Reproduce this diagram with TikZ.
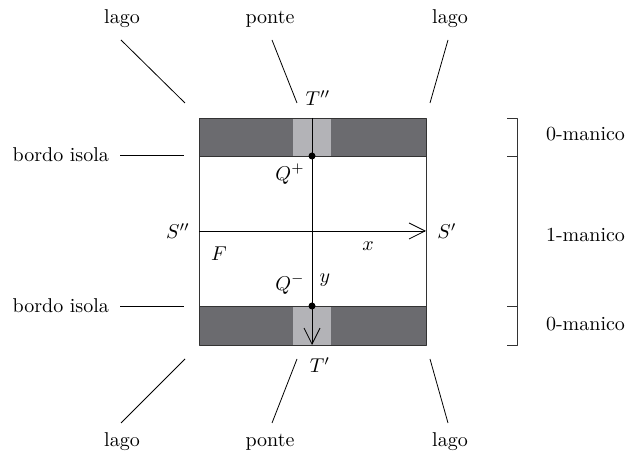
\documentclass[tikz,border=0pt]{standalone}
\usetikzlibrary{arrows.meta}
\definecolor{lagogrigio}{RGB}{107,107,111}
\definecolor{pontegrigio}{RGB}{179,179,183}
\begin{document}
\begin{tikzpicture}[
		x=0.5pt, y=-0.5pt,
		line join=round,
		>={Straight Barb[length=8pt,width=8pt]},
		etichetta/.style={inner sep=1pt}
		]
		\useasboundingbox (0,0) rectangle (627,458);
		
		% Angoli del quadrato
		\coordinate (NO) at (199,118);
		\coordinate (NE) at (426,118);
		\coordinate (SO) at (199,345);
		\coordinate (SE) at (426,345);
		\coordinate (BOs) at (199,156);
		\coordinate (BEs) at (426,156);
		\coordinate (BOi) at (199,306);
		\coordinate (BEi) at (426,306);
		
		% Bande (laghi) e ponti
		\fill[lagogrigio] (NO) rectangle (BEs);
		\fill[lagogrigio] (BOi) rectangle (SE);
		\fill[pontegrigio] (293,118) rectangle (331,156);
		\fill[pontegrigio] (293,306) rectangle (331,345);
		
		% Quadrato
		\draw[black!80] (NO) rectangle (SE);
		\draw[black!80] (BOs) -- (BEs);
		\draw[black!80] (BOi) -- (BEi);
		
		% Assi
		\coordinate (Tpp) at (312,118);
		\coordinate (Tp) at (312,345);
		\coordinate (Spp) at (199,231);
		\coordinate (Sp) at (426,231);
		\draw[->] (Tpp) -- (Tp);
		\draw[->] (Spp) -- (Sp);
		
		% Punti
		\coordinate (Qp) at (312,156);
		\coordinate (Qm) at (312,306);
		\fill (Qp) circle (1.75pt);
		\fill (Qm) circle (1.75pt);
		
		% Nomi
		\node[etichetta] (lTpp) at (318,98) {$T''$};
		\node[etichetta] (lTp) at (320,365) {$T'$};
		\node[etichetta] (lQp) at (290,174) {$Q^+$};
		\node[etichetta] (lQm) at (290,284) {$Q^-$};
		\node[etichetta] (ly) at (325,280) {$y$};
		\node[etichetta] (lx) at (368,246) {$x$};
		\node[etichetta] (lF) at (219,254) {$F$};
		\node[etichetta] (lSpp) at (178,231) {$S''$};
		\node[etichetta] (lSp) at (447,231) {$S'$};
		
		% Laghi e ponti (sopra)
		\node (lagoA) at (122,19) {lago};
		\node (ponteA) at (270,19) {ponte};
		\node (lagoB) at (450,19) {lago};
		\coordinate (a1) at (121,40);  \coordinate (a2) at (185,103);
		\coordinate (b1) at (272,40);  \coordinate (b2) at (297,103);
		\coordinate (c1) at (448,40);  \coordinate (c2) at (430,103);
		\draw (a1) -- (a2);
		\draw (b1) -- (b2);
		\draw (c1) -- (c2);
		
		% Laghi e ponti (sotto)
		\node (lagoC) at (122,442) {lago};
		\node (ponteB) at (270,442) {ponte};
		\node (lagoD) at (450,442) {lago};
		\coordinate (d1) at (121,423);  \coordinate (d2) at (185,359);
		\coordinate (e1) at (272,423);  \coordinate (e2) at (297,359);
		\coordinate (f1) at (448,423);  \coordinate (f2) at (430,359);
		\draw (d1) -- (d2);
		\draw (e1) -- (e2);
		\draw (f1) -- (f2);
		
		% Bordo isola
		\node[anchor=east] (bordoA) at (116,155) {bordo isola};
		\node[anchor=east] (bordoB) at (116,306) {bordo isola};
		\coordinate (g2) at (184,155);
		\coordinate (h2) at (184,306);
		\draw (bordoA.east) ++(4,0) -- (g2);
		\draw (bordoB.east) ++(4,0) -- (h2);
		
		% Manici
		\draw[black!80] (507,118) -- (517,118) -- (517,345) -- (507,345);
		\draw[black!80] (507,156) -- (517,156);
		\draw[black!80] (507,306) -- (517,306);
		\node[anchor=west] (manico0a) at (539,134) {0-manico};
		\node[anchor=west] (manico1) at (539,235) {1-manico};
		\node[anchor=west] (manico0b) at (539,324) {0-manico};
		
	\end{tikzpicture}
\end{document}
